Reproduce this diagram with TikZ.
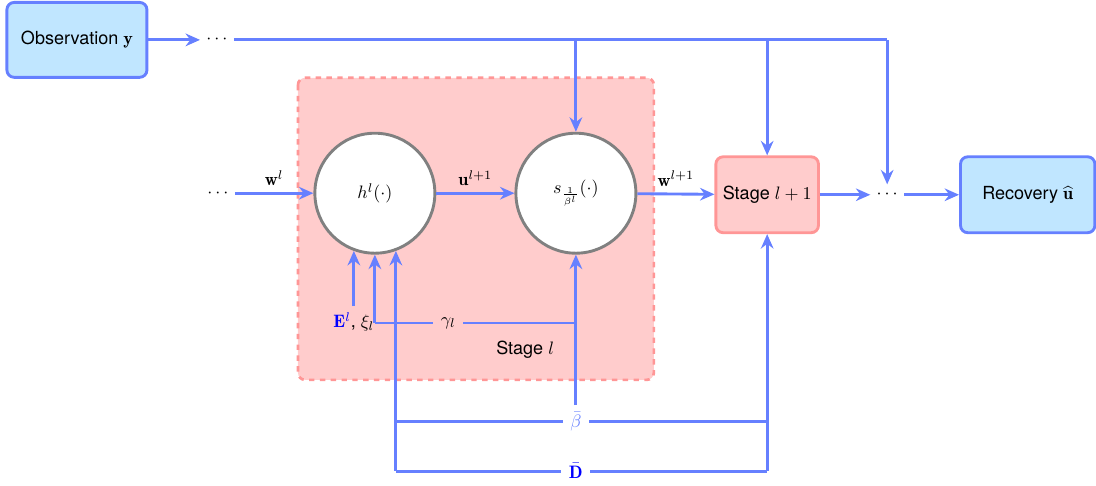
\documentclass[tikz,border=0pt]{standalone}
\usepackage{fontspec}
\setsansfont{TeX Gyre Heros}
\usetikzlibrary{arrows.meta, positioning, calc}
\definecolor{lineblue}{RGB}{102,128,255}
\definecolor{boxblue}{RGB}{192,230,255}
\definecolor{stagepink}{RGB}{255,204,204}
\definecolor{stageedge}{RGB}{255,150,150}
\begin{document}
\begin{tikzpicture}[
    font=\sffamily,
    flow/.style={draw=lineblue, line width=1.6pt, -{Stealth[length=8pt, width=7pt]}},
    link/.style={draw=lineblue, line width=1.6pt},
    endbox/.style={rectangle, rounded corners=4pt, draw=lineblue, fill=boxblue, line width=1.6pt},
    stagebox/.style={rectangle, rounded corners=4pt, draw=stageedge, fill=stagepink, line width=1.6pt},
    opbox/.style={circle, draw=gray, fill=white, line width=1.6pt, minimum size=2.34cm},
    lbl/.style={inner sep=4pt}
  ]
  \useasboundingbox (0,0) rectangle (21.372,9.4575);

  % Stage l region
  \draw[draw=stageedge, fill=stagepink, dashed, line width=1.5pt, rounded corners=4pt]
    (5.81,7.94) rectangle (12.75,2.05);
  \node (stagel) at (10.24,2.63) {Stage $l$};

  % Blocks
  \node[endbox, minimum width=2.73cm, minimum height=1.46cm] (obs) at (1.50,8.68) {Observation $\mathbf{y}$};
  \node (dotsA) at (4.23,8.68) {$\cdots$};
  \node (dotsB) at (4.25,5.69) {$\cdots$};
  \node[opbox] (h) at (7.31,5.69) {$h^l(\cdot)$};
  \node[opbox] (s) at (11.23,5.69) {$s_{\frac{1}{\beta^l}}(\cdot)$};
  \node[stagebox, minimum width=2.0cm, minimum height=1.48cm] (next) at (14.96,5.66) {Stage $l+1$};
  \node (dotsC) at (17.30,5.66) {$\cdots$};
  \node[endbox, minimum width=2.62cm, minimum height=1.48cm] (rec) at (20.04,5.66) {Recovery $\widehat{\mathbf{u}}$};

  % Parameter labels
  \node (El) at (6.90,3.18) {\textcolor{blue}{$\mathbf{E}^l$}, $\xi_l$};
  \node[lbl] (gam) at (8.74,3.16) {$\gamma_l$};
  \node[lbl, text=lineblue] (bbar) at (11.23,1.23) {$\bar{\beta}$};
  \node[lbl, text=blue] (dbar) at (11.23,0.27) {$\bar{\mathbf{D}}$};

  % Main chain
  \draw[flow] (obs) -- (dotsA);
  \draw[flow] (dotsB) -- node[midway, above] {$\mathbf{w}^l$} (h);
  \draw[flow] (h) -- node[midway, above] {$\mathbf{u}^{l+1}$} (s);
  \draw[flow] (s) -- node[midway, above] {$\mathbf{w}^{l+1}$} (next);
  \draw[flow] (next) -- (dotsC);
  \draw[flow] (dotsC) -- (rec);

  % Observation feed
  \draw[link] (dotsA) -- (dotsA -| dotsC);
  \draw[flow] (dotsA -| dotsC) -- (dotsC);
  \draw[flow] (dotsA -| s) -- (s);
  \draw[flow] (dotsA -| next) -- (next);

  % Parameters into stage l
  \draw[flow] (h.250 |- El.north) -- (h.250);
  \draw[flow] (h.south |- gam) -- (h.south);
  \draw[link] (h.south |- gam) -- (gam);
  \draw[link] (gam) -- (s.south |- gam);
  \draw[flow] (bbar) -- (s.south);

  % Shared parameters
  \draw[link] (h.290 |- bbar) -- (bbar);
  \draw[link] (bbar) -- (next.south |- bbar);
  \draw[link] (h.290 |- dbar) -- (dbar);
  \draw[link] (dbar) -- (next.south |- dbar);
  \draw[flow] (h.290 |- dbar) -- (h.290);
  \draw[flow] (next.south |- dbar) -- (next.south);
\end{tikzpicture}
\end{document}
